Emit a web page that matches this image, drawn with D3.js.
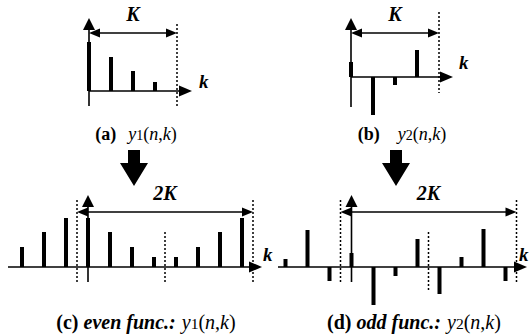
<!DOCTYPE html>
<html>
<head>
<meta charset="utf-8">
<script src="https://cdn.jsdelivr.net/npm/d3@7"></script>
<style>
  html, body { margin: 0; padding: 0; background: #fff; }
  svg { display: block; }
  svg text { font-family: "Liberation Serif", "Times New Roman", "DejaVu Serif", serif; }
</style>
</head>
<body>
<svg id="chart" width="529" height="336"></svg>
<script>
// Original sequences over one period K = 4
const kBase = [0, 1, 2, 3];
const y1 = [4.9, 3.4, 2.0, 0.9];
const y2 = [1.5, -3.8, -0.8, 2.7];

// Extended sequences over k = -3 .. 7 (period 2K)
const kExt = [-3, -2, -1, 0, 1, 2, 3, 4, 5, 6, 7];
const y1Even = [2.0, 3.5, 4.9, 4.9, 3.5, 2.0, 1.0, 1.0, 2.0, 3.5, 4.9];
const y2Odd = [0.8, 3.7, -1.4, 1.4, -3.8, -0.9, 2.8, -2.7, 1.0, 3.8, -1.4];

// Period boundaries
const periodA = [4];
const periodExt = [-0.5, 3.5, 7.5];

const svg = d3.select("#chart");

function head(g, x, y, dir, len, half) {
  // filled triangular arrow head with its tip at (x, y)
  let pts;
  if (dir === "up") pts = [[x, y], [x - half, y + len], [x + half, y + len]];
  else if (dir === "right") pts = [[x, y], [x - len, y - half], [x - len, y + half]];
  else if (dir === "left") pts = [[x, y], [x + len, y - half], [x + len, y + half]];
  g.append("path").attr("d", d3.line()(pts) + "Z").attr("fill", "#000");
}

function panel(opt) {
  const g = svg.append("g");
  const x = d3.scaleLinear().domain([0, 4]).range([opt.x0, opt.x0 + 88]);
  const y = d3.scaleLinear().domain([0, 1]).range([opt.base, opt.base - 10]);

  // dotted period boundaries
  opt.bounds.forEach((b, i) => {
    const seg = opt.boundY[i];
    g.append("line")
      .attr("x1", x(b)).attr("x2", x(b))
      .attr("y1", seg[0]).attr("y2", seg[1])
      .attr("stroke", "#000").attr("stroke-width", 1.5)
      .attr("stroke-dasharray", "2,2");
  });

  // stems
  g.selectAll("rect.stem").data(opt.k.map((k, i) => ({ k, v: opt.v[i] })))
    .join("rect").attr("class", "stem")
    .attr("x", d => x(d.k) - 2)
    .attr("width", 4)
    .attr("y", d => Math.min(y(d.v), y(0)))
    .attr("height", d => Math.abs(y(d.v) - y(0)))
    .attr("fill", "#000");

  // horizontal axis
  g.append("line")
    .attr("x1", opt.xStart).attr("x2", opt.xEnd - 8)
    .attr("y1", y(0)).attr("y2", y(0))
    .attr("stroke", "#000").attr("stroke-width", 1.6);
  head(g, opt.xEnd, y(0), "right", 13, 5.5);

  // vertical axis
  g.append("line")
    .attr("x1", x(0)).attr("x2", x(0))
    .attr("y1", opt.yBottom).attr("y2", opt.yTop + 8)
    .attr("stroke", "#000").attr("stroke-width", 1.6);
  head(g, x(0), opt.yTop, "up", 12, 6);

  // period span arrow
  const a0 = x(opt.span[0]), a1 = x(opt.span[1]);
  g.append("line")
    .attr("x1", a0 + 6).attr("x2", a1 - 6)
    .attr("y1", opt.spanY).attr("y2", opt.spanY)
    .attr("stroke", "#000").attr("stroke-width", 1.6);
  head(g, a0, opt.spanY, "left", 11, 4.5);
  head(g, a1, opt.spanY, "right", 11, 4.5);

  g.append("text")
    .attr("x", (a0 + a1) / 2 + opt.spanDx).attr("y", opt.spanY - 12)
    .attr("text-anchor", "middle")
    .attr("font-weight", "bold").attr("font-style", "italic")
    .attr("font-size", 20).text(opt.spanLabel);

  g.append("text")
    .attr("x", opt.kX).attr("y", opt.kY)
    .attr("font-weight", "bold").attr("font-style", "italic")
    .attr("font-size", 19).text("k");
}

panel({ x0: 89, base: 91, k: kBase, v: y1, bounds: periodA, boundY: [[24, 106]],
  xStart: 89, xEnd: 192, yTop: 18, yBottom: 106, span: [0, 4], spanY: 33, spanDx: 0,
  spanLabel: "K", kX: 199, kY: 88 });
panel({ x0: 351, base: 77, k: kBase, v: y2, bounds: periodA, boundY: [[12, 93]],
  xStart: 351, xEnd: 453, yTop: 18, yBottom: 107, span: [0, 4], spanY: 33, spanDx: 0,
  spanLabel: "K", kX: 459, kY: 69 });
panel({ x0: 88, base: 267, k: kExt, v: y1Even, bounds: periodExt,
  boundY: [[200, 282], [232, 282], [200, 282]],
  xStart: 8, xEnd: 262, yTop: 195, yBottom: 282, span: [-0.5, 7.5], spanY: 212, spanDx: 0,
  spanLabel: "2K", kX: 263, kY: 261 });
panel({ x0: 351.5, base: 267, k: kExt, v: y2Odd, bounds: periodExt,
  boundY: [[200, 282], [232, 292], [200, 282]],
  xStart: 278, xEnd: 527, yTop: 195, yBottom: 282, span: [-0.5, 7.5], spanY: 212, spanDx: 0,
  spanLabel: "2K", kX: 519, kY: 261 });

// block arrows pointing from each sequence to its extension
[134, 396].forEach(cx => {
  svg.append("path")
    .attr("d", d3.line()([[cx - 6, 150], [cx + 6, 150], [cx + 6, 163], [cx + 14, 163],
      [cx, 186], [cx - 14, 163], [cx - 6, 163]]) + "Z")
    .attr("fill", "#000");
});

// captions
function caption(cx, cy, size, tag, style, name, sub, gap) {
  const t = svg.append("text")
    .attr("x", cx).attr("y", cy).attr("text-anchor", "middle")
    .attr("font-size", size);
  t.append("tspan").attr("font-weight", "bold").text(tag);
  if (style) t.append("tspan").attr("font-weight", "bold").attr("font-style", "italic").text(style);
  t.append("tspan").attr("font-style", "italic").attr("dx", gap).text(name);
  t.append("tspan").attr("font-size", size * 0.78).text(sub);
  t.append("tspan").text("(");
  t.append("tspan").attr("font-style", "italic").text("n");
  t.append("tspan").text(",");
  t.append("tspan").attr("font-style", "italic").text("k");
  t.append("tspan").text(")");
}
caption(136, 140, 18, "(a)", null, "y", "1", 12);
caption(402, 140, 18, "(b)", null, "y", "2", 18);
caption(146, 329, 20, "(c) ", "even func.:", "y", "1", 6);
caption(414, 329, 20, "(d) ", "odd func.:", "y", "2", 6);
</script>
</body>
</html>
